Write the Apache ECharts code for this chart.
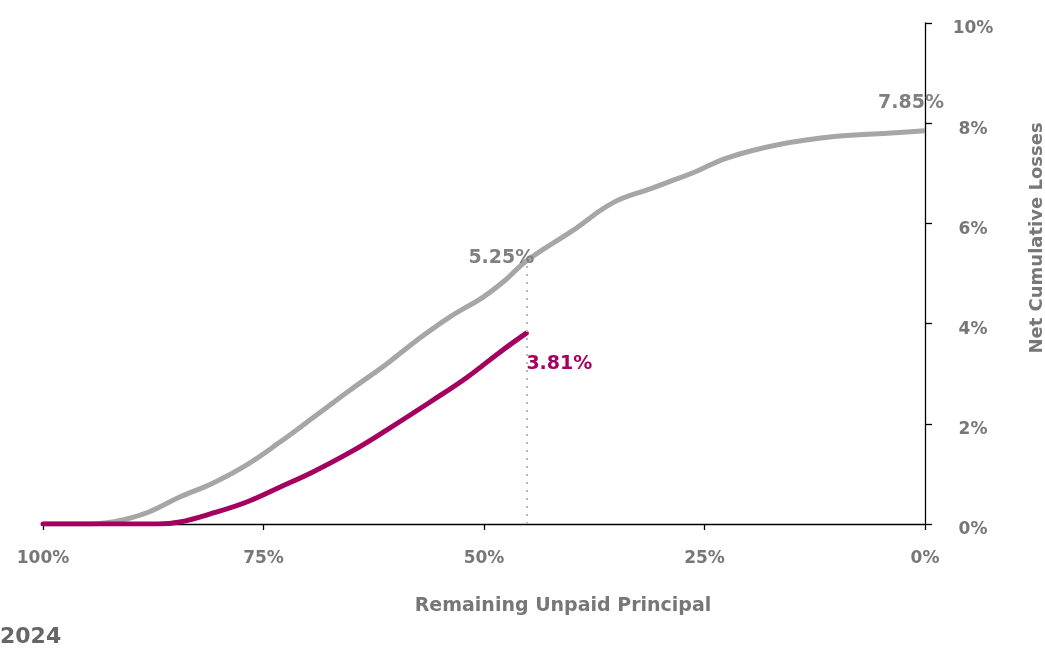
<!DOCTYPE html>
<html>
<head>
<meta charset="utf-8">
<script src="https://cdn.jsdelivr.net/npm/echarts@6/dist/echarts.min.js"></script>
<style>
  html, body { margin: 0; padding: 0; background: #fff; }
  #main { width: 1045px; height: 649px; }
</style>
</head>
<body>
<div id="main"></div>
<script>
// remaining unpaid principal (%) -> net cumulative losses (%)
var grayX = [100, 95, 93, 91, 88, 84.5, 80.7, 76.9, 73.1, 69.4, 65.2, 61, 57.6, 53.9, 50.1, 47.5, 45.2, 40, 35.4, 31, 28.9, 26.3, 22.4, 16.4, 10, 4.3, 0];
var grayY = [0, 0, 0.02, 0.08, 0.24, 0.54, 0.82, 1.18, 1.64, 2.12, 2.67, 3.2, 3.67, 4.13, 4.53, 4.88, 5.25, 5.85, 6.41, 6.7, 6.84, 7.01, 7.31, 7.58, 7.74, 7.8, 7.85];

var pinkX = [100, 87, 84.5, 80.7, 76.9, 73.1, 69.4, 65, 61, 55.8, 51.9, 48.2, 45.2];
var pinkY = [0, 0, 0.04, 0.22, 0.44, 0.74, 1.04, 1.45, 1.88, 2.47, 2.93, 3.43, 3.81];

var cutX = 45.2;   // where the dotted line sits
var grayColor = '#a6a6a6';
var pinkColor = '#a5005f';
var textColor = '#777777';
var font = 'DejaVu Sans';

function pairs(xs, ys) {
  var out = [];
  for (var i = 0; i < xs.length; i++) out.push([xs[i], ys[i]]);
  return out;
}

function labelled(point, text, color, pos, offset) {
  return {
    value: point,
    label: {show: true, position: pos, offset: offset, formatter: text,
      color: color, fontSize: 19, fontWeight: 'bold', fontFamily: font}
  };
}

var grayData = pairs(grayX, grayY);
var pinkData = pairs(pinkX, pinkY);

grayData[16] = labelled(grayData[16], '5.25%', '#808080', 'top', [-25, 12]);
grayData[grayData.length - 1] = labelled(grayData[grayData.length - 1], '7.85%', '#808080', 'top', [-14, -13]);
pinkData[pinkData.length - 1] = labelled(pinkData[pinkData.length - 1], '3.81%', pinkColor, 'bottom', [33, 16]);

var myChart = echarts.init(document.getElementById('main'));

var option = {
  animation: false,
  backgroundColor: '#fff',
  grid: {left: 43, right: 120, top: 23, bottom: 125},
  xAxis: {
    type: 'value',
    inverse: true,
    min: 0,
    max: 100,
    interval: 25,
    splitLine: {show: false},
    axisLine: {lineStyle: {color: '#000', width: 1.3}},
    axisTick: {show: true, length: 6, lineStyle: {color: '#000', width: 1.3}},
    axisLabel: {
      margin: 26,
      color: textColor,
      fontSize: 17,
      fontWeight: 'bold',
      fontFamily: font,
      formatter: '{value}%'
    }
  },
  yAxis: {
    type: 'value',
    position: 'right',
    min: 0,
    max: 10,
    interval: 2,
    splitLine: {show: false},
    axisLine: {show: true, lineStyle: {color: '#000', width: 1.3}},
    axisTick: {show: true, length: 7, lineStyle: {color: '#000', width: 1.3}},
    axisLabel: {
      margin: 48,
      align: 'center',
      formatter: '{v|{value}%}',
      rich: {
        v: {
          padding: [12, 0, 0, 0],
          color: textColor,
          fontSize: 17,
          fontWeight: 'bold',
          fontFamily: font
        }
      }
    }
  },
  series: [
    {
      name: 'gray',
      type: 'line',
      data: grayData,
      smooth: 0.4,
      showSymbol: true,
      symbol: 'circle',
      symbolSize: 1,
      itemStyle: {color: 'rgba(0,0,0,0)'},
      lineStyle: {color: grayColor, width: 5},
      z: 2
    },
    {
      name: 'pink',
      type: 'line',
      data: pinkData,
      smooth: 0.4,
      showSymbol: true,
      symbol: 'circle',
      symbolSize: 1,
      itemStyle: {color: 'rgba(0,0,0,0)'},
      lineStyle: {color: pinkColor, width: 5, cap: 'round'},
      z: 3,
      markLine: {
        silent: true,
        symbol: 'none',
        label: {show: false},
        lineStyle: {color: '#b8b8b8', type: [2, 6], width: 2},
        data: [[{coord: [cutX, 0]}, {coord: [cutX, 5.25]}]]
      }
    }
  ],
  graphic: [
    {
      type: 'text',
      x: 563,
      y: 606,
      style: {text: 'Remaining Unpaid Principal', fill: textColor, font: 'bold 19px ' + font,
        align: 'center', verticalAlign: 'middle'}
    },
    {
      type: 'text',
      x: 1037,
      y: 238,
      rotation: Math.PI / 2,
      style: {text: 'Net Cumulative Losses', fill: textColor, font: 'bold 18px ' + font,
        align: 'center', verticalAlign: 'middle'}
    },
    {
      type: 'text',
      left: 0,
      top: 626,
      style: {text: '2024', fill: '#666666', font: 'bold 22px ' + font}
    }
  ]
};

myChart.setOption(option);
</script>
</body>
</html>
